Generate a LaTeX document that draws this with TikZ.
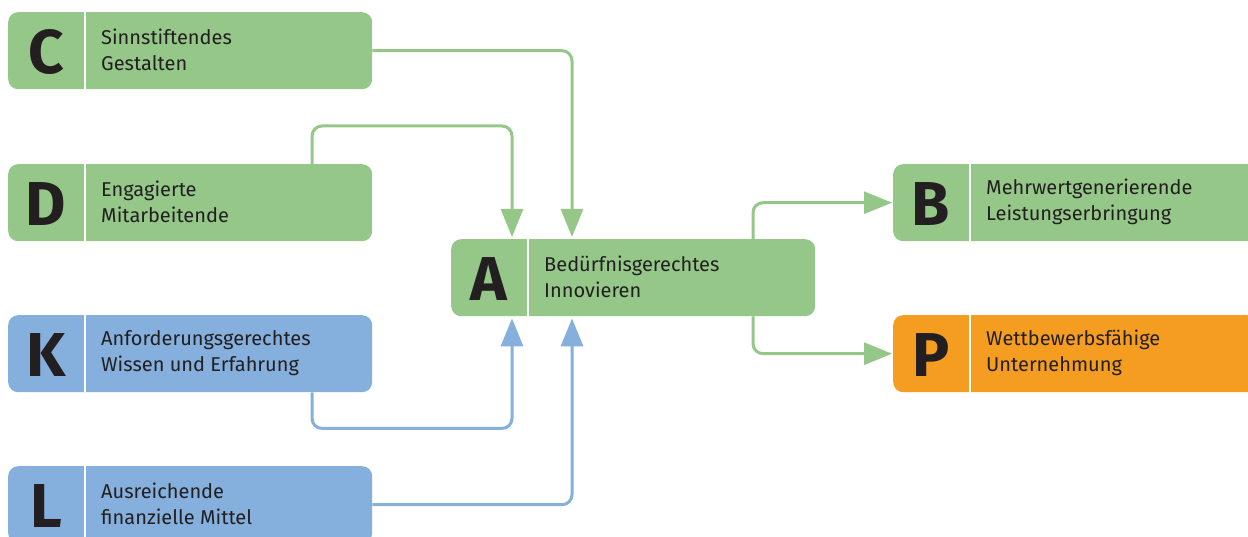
\documentclass[tikz,border=0pt]{standalone}
\usepackage{fontspec}
\setmainfont{Fira Sans}
\usetikzlibrary{arrows.meta}

\definecolor{boxgreen}{RGB}{149,199,137}
\definecolor{boxblue}{RGB}{133,176,221}
\definecolor{boxorange}{RGB}{245,157,32}
\definecolor{ink}{RGB}{35,31,32}

\tikzset{
  flow/.style={rounded corners=10pt, inner sep=0pt, minimum width=364pt,
    minimum height=77pt, draw=none, anchor=north west},
  bigletter/.style={font=\fontsize{62}{62}\bfseries\selectfont, text=ink,
    inner sep=0pt, text depth=0pt},
  caption/.style={font=\fontsize{20}{26}\selectfont, text=ink, align=left,
    anchor=west, inner sep=0pt},
  link/.style={line width=3pt, rounded corners=10pt,
    -{Triangle[width=22pt,length=28pt]}},
}

% #1 name, #2 x, #3 y, #4 fill colour, #5 letter, #6 caption
\newcommand{\flowbox}[6]{%
  \node[flow, fill=#4] (#1) at (#2,#3) {};
  \draw[white, line width=2pt] ([xshift=77pt]#1.north west) -- ([xshift=77pt]#1.south west);
  \node[bigletter] (#1-letter) at ([xshift=38pt,yshift=-1pt]#1.west) {#5};
  \node[caption] (#1-text) at ([xshift=93pt,yshift=1pt]#1.west) {#6};
}

\begin{document}
\begin{tikzpicture}[x=1pt, y=-1pt]
  \useasboundingbox (0,0) rectangle (1248,537);
  \clip (0,0) rectangle (1248,537);

  \flowbox{C}{8}{12}{boxgreen}{C}{Sinnstiftendes\\Gestalten}
  \flowbox{D}{8}{164}{boxgreen}{D}{Engagierte\\Mitarbeitende}
  \flowbox{K}{8}{315}{boxblue}{K}{Anforderungsgerechtes\\Wissen und Erfahrung}
  \flowbox{L}{8}{466}{boxblue}{L}{Ausreichende\\finanzielle Mittel}
  \flowbox{A}{451}{239}{boxgreen}{A}{Bedürfnisgerechtes\\Innovieren}
  \flowbox{B}{893}{164}{boxgreen}{B}{Mehrwertgenerierende\\Leistungserbringung}
  \flowbox{P}{893}{315}{boxorange}{P}{Wettbewerbsfähige\\Unternehmung}

  % inputs into A
  \draw[link, boxgreen] (C.east) -| ([xshift=121pt,yshift=2pt]A.north west);
  \draw[link, boxgreen] ([xshift=304pt]D.north west) |- ([xshift=61pt,yshift=113pt]A.north west)
    -- ([xshift=61pt,yshift=2pt]A.north west);
  \draw[link, boxblue] ([xshift=304pt]K.south west) |- ([xshift=61pt,yshift=-112pt]A.south west)
    -- ([xshift=61pt,yshift=-2pt]A.south west);
  \draw[link, boxblue] (L.east) -| ([xshift=121pt,yshift=-2pt]A.south west);

  % outputs of A
  \draw[link, boxgreen] ([xshift=302pt]A.north west) |- ([xshift=-1pt]B.west);
  \draw[link, boxgreen] ([xshift=302pt]A.south west) |- ([xshift=-1pt]P.west);
\end{tikzpicture}
\end{document}
